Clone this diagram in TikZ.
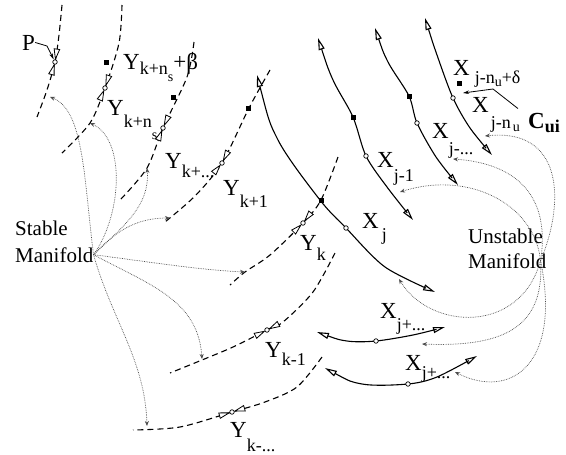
\documentclass[tikz,border=0pt]{standalone}
\usepackage{fontspec}
\setmainfont{Liberation Serif}
\usetikzlibrary{arrows.meta,calc}

\newcommand{\lsub}[2][10pt]{\raisebox{-#1}{\fontsize{18}{18}\selectfont #2}}
\newcommand{\lsubsub}[2][8pt]{\raisebox{-#1}{\fontsize{14}{14}\selectfont #2}}
% open triangle on a stable curve: tip near #1, pointing from #2 towards #1
\newcommand{\convtri}[2]{%
  \draw[tri] ($(#1)!3pt!(#2)$) -- ($($(#1)!13pt!(#2)$)!2.8pt!90:(#2)$)
    -- ($($(#1)!13pt!(#2)$)!2.8pt!-90:(#2)$) -- cycle;}

\tikzset{
  stable/.style={line width=1.1pt, dash pattern=on 6pt off 4pt},
  unstable/.style={line width=1.1pt, {Triangle[open,length=12pt,width=6pt]}-{Triangle[open,length=12pt,width=6pt]}},
  tri/.style={draw, fill=white, line width=0.8pt, line join=miter},
  pt/.style={circle, draw, fill=white, line width=0.7pt, inner sep=0pt, minimum size=4.5pt},
  fix/.style={fill=black, inner sep=0pt, minimum size=5pt},
  flow/.style={densely dotted, line width=0.7pt, black!70, -{Stealth[length=5pt,width=4pt]}},
  pointer/.style={line width=0.8pt, -{Stealth[length=6pt,width=3.5pt]}},
  lbl/.style={inner sep=0pt, anchor=base west, font=\fontsize{23}{23}\selectfont},
  manif/.style={inner sep=0pt, anchor=base west, font=\fontsize{21}{21}\selectfont},
}

\begin{document}
\begin{tikzpicture}[x=1pt,y=-1pt]
\useasboundingbox (0,0) rectangle (566,455);

% stable manifolds
\draw[stable] plot[smooth] coordinates {(62,5) (59,35) (55,62) (47,90) (37,117)};
\draw[stable] plot[smooth] coordinates {(122,5) (119,43) (105,88) (90,123) (62,153)};
\draw[stable] plot[smooth] coordinates {(194,42) (187,77) (163,128) (147,168) (121,199)};
\draw[stable] plot[smooth] coordinates {(270,70) (249,108) (222,163) (195,196) (165,222)};
\draw[stable] plot[smooth] coordinates {(338,157) (321,200) (303,223) (270,255) (245,272) (230,285)};
\draw[stable] plot[smooth] coordinates {(335,253) (313,292) (283,322) (267,330) (233,347) (202,360) (170,373)};
\draw[stable] plot[smooth] coordinates {(322,357) (297,387) (265,402) (232,412) (180,427) (133,430)};

% unstable manifolds
\draw[unstable] plot[smooth] coordinates {(257,75) (278,140) (320,200) (346,228) (385,267) (435,292)};
\draw[unstable] plot[smooth] coordinates {(318,38) (333,80) (353,117) (366,156) (387,187) (413,220)};
\draw[unstable] plot[smooth] coordinates {(375,28) (388,62) (409,96) (417,123) (436,157) (458,185)};
\draw[unstable] plot[smooth] coordinates {(425,18) (437,55) (453,98) (470,128) (492,155)};
\draw[unstable] plot[smooth] coordinates {(317,332) (347,341) (376,341) (413,335) (445,327)};
\draw[unstable] plot[smooth] coordinates {(325,368) (362,384) (408,384) (437,377) (477,356)};

% converging arrows on the stable side
\convtri{55,62}{59,35}
\convtri{55,62}{47,90}
\convtri{105,88}{114,60}
\convtri{105,88}{90,123}
\convtri{163,128}{178,95}
\convtri{163,128}{147,168}
\convtri{222,163}{240,128}
\convtri{222,163}{195,196}
\convtri{303,223}{321,200}
\convtri{303,223}{270,255}
\convtri{267,330}{290,318}
\convtri{267,330}{233,347}
\convtri{232,412}{265,402}
\convtri{232,412}{180,427}

% points on the manifolds
\node[pt] (p1) at (55,62) {};
\node[pt] (p2) at (105,88) {};
\node[pt] (p3) at (163,128) {};
\node[pt] (p4) at (222,163) {};
\node[pt] (p5) at (303,223) {};
\node[pt] (p6) at (267,330) {};
\node[pt] (p7) at (232,412) {};
\node[pt] (q1) at (346,228) {};
\node[pt] (q2) at (366,156) {};
\node[pt] (q3) at (417,123) {};
\node[pt] (q4) at (453,98) {};
\node[pt] (q5) at (376,341) {};
\node[pt] (q6) at (408,384) {};

\node[fix] (f2) at (106,62) {};
\node[fix] (f3) at (173,97) {};
\node[fix] (f4) at (248,108) {};
\node[fix] (fx) at (321,200) {};
\node[fix] (g2) at (353,117) {};
\node[fix] (g3) at (409,96) {};
\node[fix] (g4) at (459,83) {};

% labels
\node[lbl] (P) at (22,50) {P};
\node[lbl] (ykb) at (123,70) {Y\lsub[5pt]{k+n\lsubsub[7pt]{s}}+β};
\node[lbl] (ykns) at (107,115) {Y\lsub[12pt]{k+n\lsubsub[12pt]{s}}};
\node[lbl] (ykd) at (165,168) {Y\lsub[9pt]{k+...}};
\node[lbl] (yk1) at (223,195) {Y\lsub[12pt]{k+1}};
\node[lbl] (yk) at (300,250) {Y\lsub[10pt]{k}};
\node[lbl] (ykm1) at (265,357) {Y\lsub[8pt]{k-1}};
\node[lbl] (ykmd) at (230,437) {Y\lsub[14pt]{k-...}};
\node[lbl] (xjd) at (453,75) {X\hspace{5pt}\lsub[8pt]{j-n\lsubsub[3pt]{u}+δ}};
\node[lbl] (xjn) at (472,112) {X\hspace{2pt}\lsub[16pt]{j-n\hspace{2pt}\lsubsub[3pt]{u}}};
\node[lbl] (cui) at (528,128) {\textbf{C}\lsub[4pt]{\textbf{ui}}};
\node[lbl] (xj1) at (377,167) {X\lsub[14pt]{j-1}};
\node[lbl] (xjm) at (432,138) {X\lsub[17pt]{j-...}};
\node[lbl] (xj) at (362,228) {X\hspace{3pt}\lsub[12pt]{j}};
\node[lbl] (xjpa) at (380,318) {X\lsub[12pt]{j+...}};
\node[lbl] (xjpb) at (405,370) {X\lsub[8pt]{j+...}};

\node[manif] (stabA) at (15,235) {Stable};
\node[manif] (stabB) at (15,262) {Manifold};
\node[manif] (unstA) at (468,243) {Unstable};
\node[manif] (unstB) at (468,268) {Manifold};

% pointers
\coordinate (pbend) at (47,46);
\coordinate (cbend) at (493,89);
\coordinate (ctip) at (463,93);
\draw[pointer] (P.east) -- (pbend) -- ($(p1)!3pt!(pbend)$);
\draw[pointer] ([shift={(-10,-4)}]cui.north west) -- (cbend) -- (ctip);

% stable manifold flows
\coordinate (s1in) at (50,97);
\coordinate (s2in) at (90,123);
\coordinate (s3in) at (147,168);
\coordinate (s4in) at (170,218);
\coordinate (s5in) at (245,272);
\coordinate (s6in) at (202,359);
\coordinate (s7in) at (147,426);
\draw[flow] (stabB.east) .. controls (84,180) and (84,110) .. (s1in);
\draw[flow] (stabB.east) .. controls (122,215) and (126,140) .. (s2in);
\draw[flow] (stabB.east) .. controls (125,225) and (150,205) .. (s3in);
\draw[flow] (stabB.east) .. controls (115,232) and (135,218) .. (s4in);
\draw[flow] (stabB.east) .. controls (150,262) and (200,270) .. (s5in);
\draw[flow] (stabB.east) .. controls (150,285) and (198,300) .. (s6in);
\draw[flow] (stabB.east) .. controls (112,320) and (145,360) .. (s7in);

% unstable manifold flows
\coordinate (um) at ([xshift=-6pt]unstB.east);
\coordinate (u4in) at (485,136);
\coordinate (u3in) at (453,159);
\coordinate (u2in) at (400,192);
\coordinate (u1in) at (399,279);
\coordinate (u5in) at (422,344);
\coordinate (u6in) at (455,372);
\draw[flow] (um) .. controls (566,200) and (562,128) .. (u4in);
\draw[flow] (um) .. controls (548,215) and (535,165) .. (u3in);
\draw[flow] (um) .. controls (535,205) and (470,170) .. (u2in);
\draw[flow] (um) .. controls (520,335) and (430,330) .. (u1in);
\draw[flow] (um) .. controls (545,330) and (500,347) .. (u5in);
\draw[flow] (um) .. controls (562,365) and (510,400) .. (u6in);
\end{tikzpicture}
\end{document}
